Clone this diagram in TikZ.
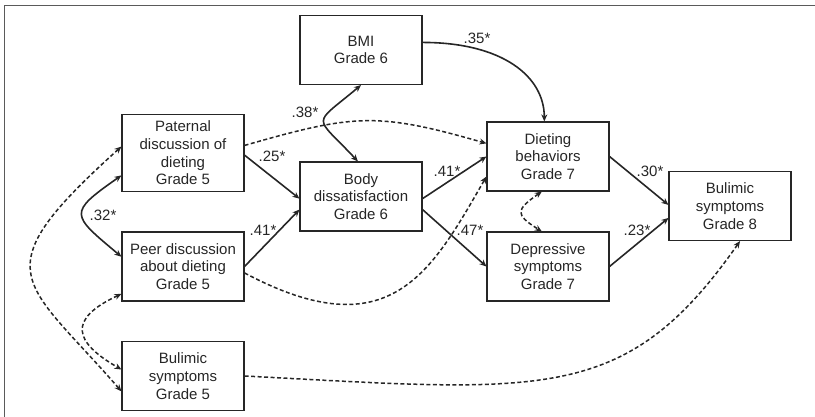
\documentclass[tikz,border=0pt]{standalone}
\usepackage{fontspec}
\setmainfont{Liberation Sans}
\usetikzlibrary{arrows.meta}
\definecolor{ink}{HTML}{262626}
\definecolor{frame}{HTML}{5A5A5A}

\begin{document}
\begin{tikzpicture}[
  x=1pt, y=1pt,
  var/.style={rectangle, draw=ink, line width=1.1pt, minimum width=122pt,
              minimum height=69pt, align=center, inner sep=2pt, text=ink,
              font=\fontsize{15}{17.7}\selectfont},
  lbl/.style={inner sep=0pt, text=ink, font=\fontsize{15}{17.7}\selectfont},
  arr/.style={-{Stealth[length=7pt, width=6pt]}, line width=1.6pt, draw=ink},
  dbl/.style={{Stealth[length=7pt, width=6pt]}-{Stealth[length=7pt, width=6pt]},
              line width=1.6pt, draw=ink},
  dsh/.style={dash pattern=on 4pt off 2.5pt, line width=1.5pt}
]
  \useasboundingbox (0,0) rectangle (815,417);
  \draw[frame, line width=1.2pt] (4.5,0) -- (4.5,411.5) -- (815,411.5);

  % Grade 5
  \node[var, minimum height=77pt] (pat) at (183,264) {Paternal\\discussion of\\dieting\\Grade 5};
  \node[var] (peer) at (183,150.5) {Peer discussion\\about dieting\\Grade 5};
  \node[var] (bul5) at (183,41) {Bulimic\\symptoms\\Grade 5};
  % Grade 6
  \node[var] (bmi) at (361,367) {BMI\\Grade 6};
  \node[var] (body) at (361,220.5) {Body\\dissatisfaction\\Grade 6};
  % Grade 7
  \node[var] (diet) at (548,260.5) {Dieting\\behaviors\\Grade 7};
  \node[var] (dep) at (548,150.5) {Depressive\\symptoms\\Grade 7};
  % Grade 8
  \node[var] (bul8) at (730,211) {Bulimic\\symptoms\\Grade 8};

  % Significant paths
  \foreach \a/\b in {pat.358/body.182, peer.east/body.192, body.358/diet.west,
                     body.348/dep.west, diet.east/bul8.179, dep.east/bul8.191}
    \draw[arr] (\a) -- (\b);
  \draw[arr] (bmi.7) .. controls +(80,0) and +(0,45) .. (diet.96);
  \draw[dbl] (bmi.south) .. controls +(220:65) and +(133:65) .. (body.95);
  \draw[dbl] (pat.200) .. controls +(215:66) and +(140:66) .. (peer.171);

  % Non-significant paths
  \draw[arr, dsh] (pat.7) .. controls +(16:114) and +(164:114) .. (diet.168);
  \draw[arr, dsh] (peer.354) .. controls +(332:165) and +(240:110) .. (diet.198);
  \draw[arr, dsh] (bul5.east) .. controls +(-3:300) and +(235:200) .. (bul8.286);
  \draw[dbl, dsh] (diet.260) .. controls +(215:32) and +(148:32) .. (dep.100);
  \draw[dbl, dsh] (peer.204) .. controls +(205:60) and +(150:55) .. (bul5.174);
  \draw[dbl, dsh] (pat.174) .. controls +(222:190) and +(131:150) .. (bul5.194);

  % Coefficients
  \foreach \v/\x/\y [count=\i] in {.25/272/261, .41/263/187, .38/305/305,
      .35/477/379, .41/447/246, .47/470/187, .30/650/246, .23/637/187, .32/103/202}
    \node[lbl] (coef\i) at (\x,\y) {\v*};
\end{tikzpicture}
\end{document}
